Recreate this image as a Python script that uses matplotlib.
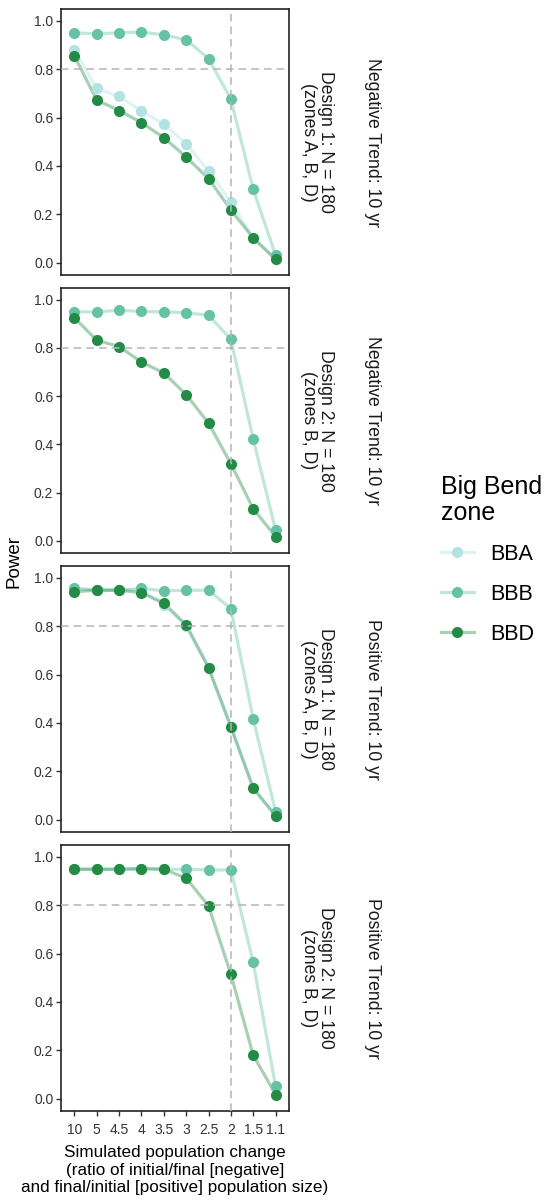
import matplotlib
matplotlib.use("Agg")
import matplotlib.pyplot as plt
from matplotlib.lines import Line2D
from matplotlib.colors import to_rgb

plt.rcParams['font.family'] = ['Liberation Sans', 'DejaVu Sans']

# ---------------- data ----------------
x_labels = ['10', '5', '4.5', '4', '3.5', '3', '2.5', '2', '1.5', '1.1']
zones = ['BBA', 'BBB', 'BBD']
zone_colors = {'BBA': '#b2e2e2', 'BBB': '#66c2a4', 'BBD': '#238b45'}

neg_d1_bba = [0.879, 0.720, 0.687, 0.628, 0.572, 0.492, 0.379, 0.252, 0.103, 0.018]
neg_d1_bbb = [0.950, 0.945, 0.950, 0.953, 0.941, 0.921, 0.843, 0.676, 0.303, 0.032]
neg_d1_bbd = [0.854, 0.672, 0.629, 0.579, 0.517, 0.437, 0.348, 0.218, 0.103, 0.014]

neg_d2_bbb = [0.949, 0.949, 0.956, 0.951, 0.949, 0.946, 0.935, 0.835, 0.422, 0.045]
neg_d2_bbd = [0.924, 0.832, 0.805, 0.741, 0.696, 0.606, 0.488, 0.320, 0.133, 0.018]

pos_d1_bba = [0.955, 0.950, 0.950, 0.948, 0.885, 0.800, 0.625, 0.385, 0.130, 0.016]
pos_d1_bbb = [0.956, 0.948, 0.948, 0.956, 0.945, 0.948, 0.948, 0.872, 0.417, 0.034]
pos_d1_bbd = [0.942, 0.948, 0.948, 0.938, 0.895, 0.805, 0.629, 0.384, 0.131, 0.017]

pos_d2_bbb = [0.948, 0.948, 0.948, 0.950, 0.948, 0.948, 0.945, 0.945, 0.563, 0.052]
pos_d2_bbd = [0.948, 0.948, 0.948, 0.950, 0.948, 0.911, 0.797, 0.514, 0.180, 0.018]

design_labels = ['Design 1: N = 180\n(zones A, B, D)', 'Design 2: N = 180\n(zones B, D)',
                 'Design 1: N = 180\n(zones A, B, D)', 'Design 2: N = 180\n(zones B, D)']
trend_labels = ['Negative Trend: 10 yr', 'Negative Trend: 10 yr',
                'Positive Trend: 10 yr', 'Positive Trend: 10 yr']

panels = [
    {'BBA': neg_d1_bba, 'BBB': neg_d1_bbb, 'BBD': neg_d1_bbd},
    {'BBB': neg_d2_bbb, 'BBD': neg_d2_bbd},
    {'BBA': pos_d1_bba, 'BBB': pos_d1_bbb, 'BBD': pos_d1_bbd},
    {'BBB': pos_d2_bbb, 'BBD': pos_d2_bbd},
]

power_threshold = 0.8
ref_change = '2'

# ---------------- layout ----------------
W, H = 545, 1200
fig = plt.figure(figsize=(W / 100, H / 100), dpi=100)

panel_px = [(9, 275), (288, 553), (566, 832), (845, 1111)]
left_px, right_px = 61, 289

line_alpha = 0.4
ms = 8
lw = 2.3
tick_col = '#333333'

x_pos = list(range(len(x_labels)))
ref_x = x_labels.index(ref_change)

for i, (top, bot) in enumerate(panel_px):
    ax = fig.add_axes([left_px / W, 1 - bot / H, (right_px - left_px) / W, (bot - top) / H])
    data = panels[i]
    for z in zones:
        if z in data:
            r, g, b = to_rgb(zone_colors[z])
            ax.plot(x_pos, data[z], color=(r, g, b, line_alpha), lw=lw,
                    solid_capstyle='round', zorder=2)
    for z in zones:
        if z in data:
            ax.plot(x_pos, data[z], linestyle='none', marker='o', ms=ms,
                    markerfacecolor=zone_colors[z], markeredgecolor=zone_colors[z],
                    markeredgewidth=0, zorder=3)
    ax.axhline(power_threshold, color='#b5b5b5', lw=1.1, ls=(0, (5, 3.3)), zorder=4)
    ax.axvline(ref_x, color='#b5b5b5', lw=1.1, ls=(0, (5, 3.3)), zorder=4)
    ax.set_xlim(-0.6, len(x_labels) - 0.4)
    ax.set_ylim(-0.05, 1.048)
    ax.set_yticks([0.0, 0.2, 0.4, 0.6, 0.8, 1.0])
    ax.set_yticklabels(['0.0', '0.2', '0.4', '0.6', '0.8', '1.0'])
    ax.set_xticks(x_pos)
    if i == len(panel_px) - 1:
        ax.set_xticklabels(x_labels)
        ax.tick_params(axis='x', length=3.5, width=1.0, colors=tick_col,
                       labelsize=10, pad=5.5)
    else:
        ax.tick_params(axis='x', length=0, labelbottom=False)
    ax.tick_params(axis='y', length=3.5, width=1.0, colors=tick_col,
                   labelsize=10, pad=2)
    for sp in ax.spines.values():
        sp.set_linewidth(1.2)
        sp.set_color('#222222')
    cy = 1 - (top + bot) / 2 / H
    fig.text(317 / W, cy, design_labels[i], rotation=-90, ha='center', va='center',
             multialignment='center', fontsize=12.7, color='#1a1a1a', linespacing=1.0)
    fig.text(373 / W, cy, trend_labels[i], rotation=-90, ha='center', va='center',
             fontsize=12.7, color='#1a1a1a')

fig.text(14 / W, 1 - 562 / H, 'Power', rotation=90, ha='center', va='center',
         fontsize=13.5, color='black')
fig.text(175 / W, 1 - 1170 / H,
         'Simulated population change\n(ratio of initial/final [negative]\nand final/initial [positive] population size)',
         ha='center', va='center', fontsize=12.3, color='black', linespacing=1.22)

# ---------------- legend ----------------
handles = []
for z in zones:
    r, g, b = to_rgb(zone_colors[z])
    handles.append(Line2D([0], [0], color=(r, g, b, line_alpha), lw=lw, marker='o', ms=ms,
                          markerfacecolor=zone_colors[z], markeredgecolor=zone_colors[z],
                          markeredgewidth=0))
leg = fig.legend(handles, zones, title='Big Bend\nzone', loc='upper left',
                 bbox_to_anchor=(441 / W, 1 - 475 / H), frameon=False,
                 fontsize=15.5, title_fontsize=18, handlelength=1.53,
                 handletextpad=0.74, labelspacing=0.89, borderpad=0,
                 borderaxespad=0, alignment='left')
leg.get_title().set_linespacing(1.08)

fig.savefig('out.png', dpi=100)
